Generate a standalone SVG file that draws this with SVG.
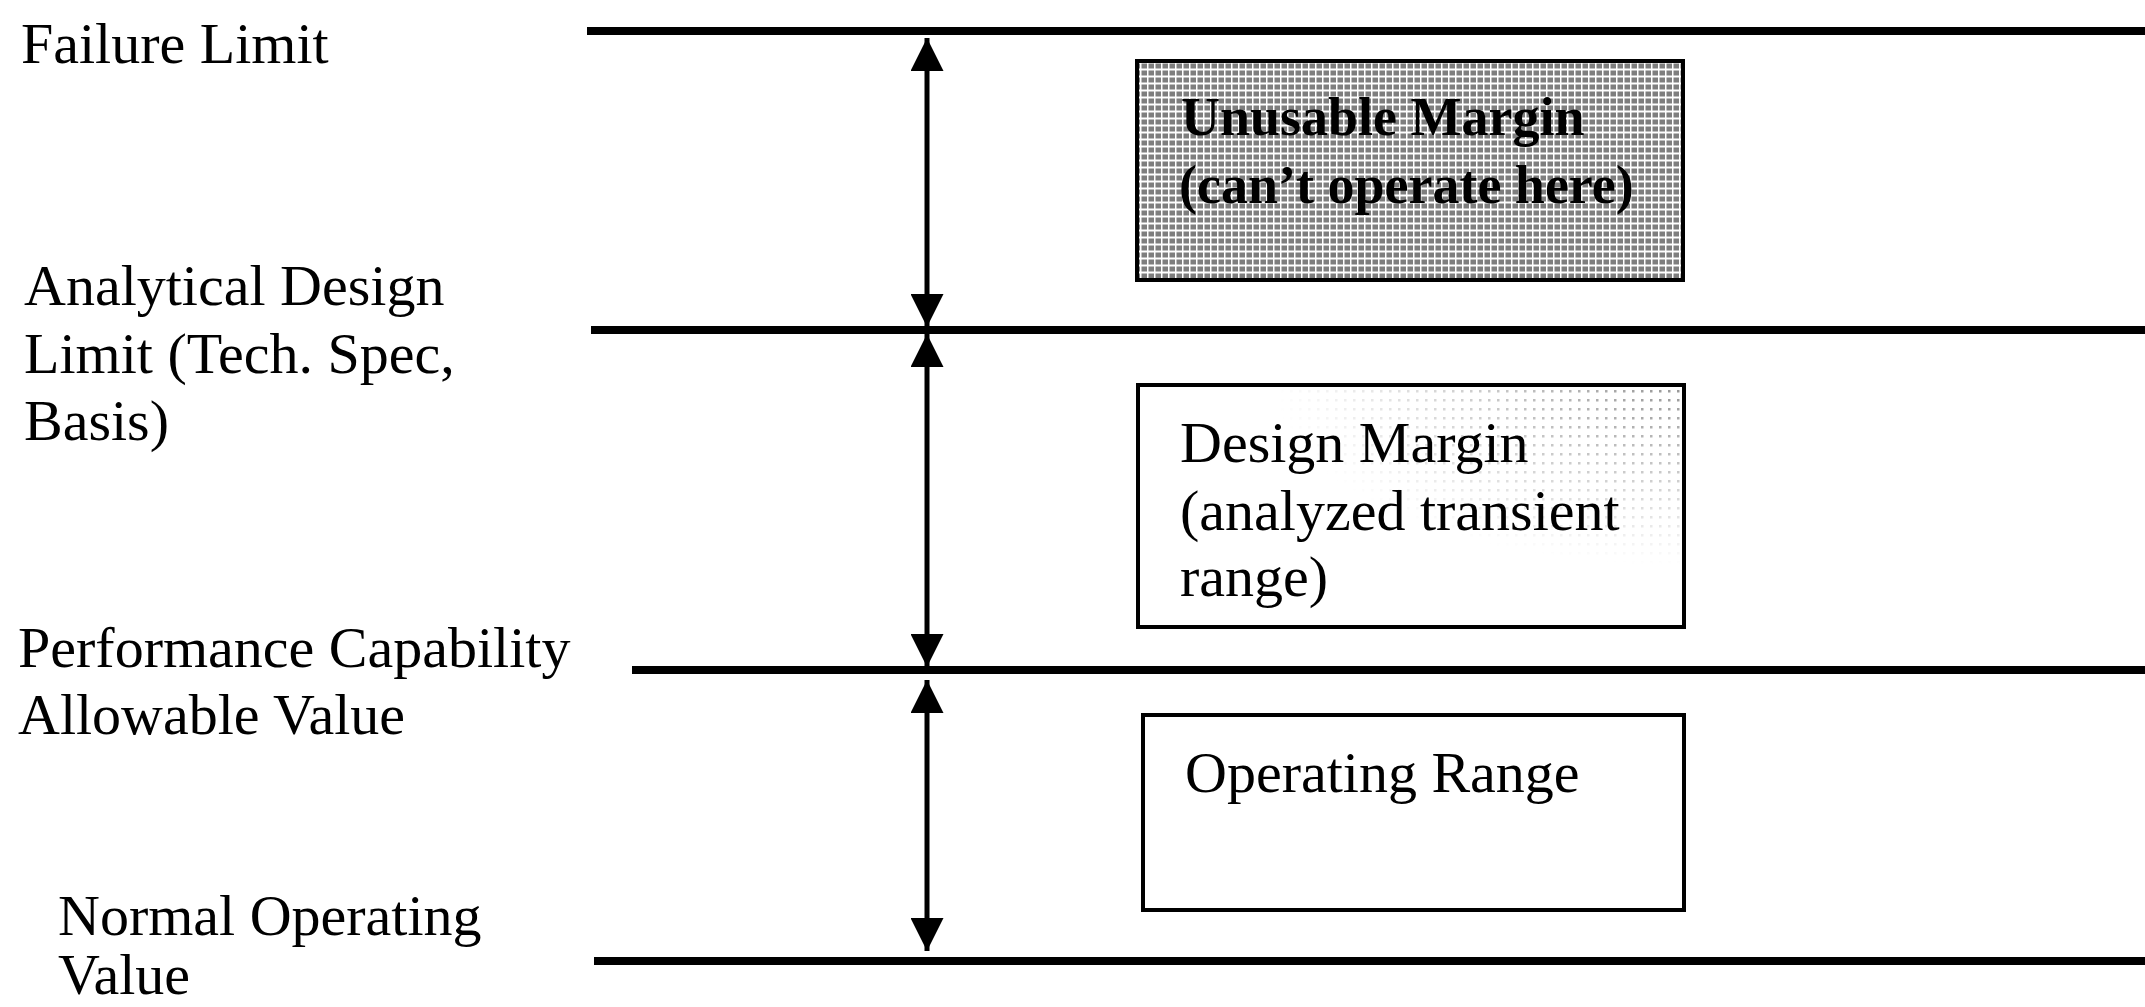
<svg xmlns="http://www.w3.org/2000/svg" width="2145" height="1007" viewBox="0 0 2145 1007">
<style>
  .lbl { font-family: "Liberation Serif", "Times New Roman", serif; font-size: 58px; fill: #000; }
  .bold { font-weight: bold; font-size: 54px; }
  .level { stroke: #000; stroke-width: 8; fill: none; }
  .box { stroke: #000; stroke-width: 4; }
  .arrow { stroke: #000; stroke-width: 5; fill: none; }
</style>
<defs>
  <marker id="head" markerUnits="userSpaceOnUse" markerWidth="33" markerHeight="33" refX="33" refY="16.5" orient="auto-start-reverse" viewBox="0 0 33 33">
    <path d="M0,0 L33,16.5 L0,33 Z" fill="#000"/>
  </marker>
  <pattern id="halftone" width="7" height="7" patternUnits="userSpaceOnUse">
    <rect width="7" height="7" fill="#ffffff"/>
    <rect x="0.5" y="0.5" width="5.5" height="5" fill="#7e7e7e"/>
  </pattern>
  <pattern id="sparse" width="9" height="9" patternUnits="userSpaceOnUse">
    <rect x="3" y="3" width="2.5" height="2.5" fill="#8a8a8a"/>
  </pattern>
  <radialGradient id="fade" cx="1" cy="0" r="0.75">
    <stop offset="0" stop-color="#fff" stop-opacity="0.9"/>
    <stop offset="0.6" stop-color="#fff" stop-opacity="0.35"/>
    <stop offset="1" stop-color="#fff" stop-opacity="0"/>
  </radialGradient>
  <mask id="fadeMask" maskContentUnits="objectBoundingBox">
    <rect width="1" height="1" fill="url(#fade)"/>
  </mask>
</defs>

<rect width="2145" height="1007" fill="#fff"/>

<g id="levels">
  <line class="level" x1="587" y1="31" x2="2145" y2="31"/>
  <line class="level" x1="591" y1="330" x2="2145" y2="330"/>
  <line class="level" x1="632" y1="670" x2="2145" y2="670"/>
  <line class="level" x1="594" y1="961" x2="2145" y2="961"/>
</g>

<g id="labels">
  <text class="lbl" x="21" y="63">Failure Limit</text>
  <text class="lbl" x="24" y="305">Analytical Design</text>
  <text class="lbl" x="24" y="373">Limit (Tech. Spec,</text>
  <text class="lbl" x="24" y="440">Basis)</text>
  <text class="lbl" x="18" y="667">Performance Capability</text>
  <text class="lbl" x="18" y="734">Allowable Value</text>
  <text class="lbl" x="58" y="935">Normal Operating</text>
  <text class="lbl" x="58" y="994">Value</text>
</g>

<g id="connectors">
  <line class="arrow" x1="927" y1="38" x2="927" y2="327" marker-start="url(#head)" marker-end="url(#head)"/>
  <line class="arrow" x1="927" y1="334" x2="927" y2="667" marker-start="url(#head)" marker-end="url(#head)"/>
  <line class="arrow" x1="927" y1="680" x2="927" y2="951" marker-start="url(#head)" marker-end="url(#head)"/>
</g>

<g id="unusable-margin">
  <rect class="box" x="1137" y="61" width="546" height="219" fill="url(#halftone)"/>
  <text class="lbl bold" x="1181" y="135">Unusable Margin</text>
  <text class="lbl bold" x="1179" y="203">(can’t operate here)</text>
</g>

<g id="design-margin">
  <rect class="box" x="1138" y="385" width="546" height="242" fill="#fff"/>
  <rect x="1140" y="387" width="542" height="238" fill="url(#sparse)" mask="url(#fadeMask)"/>
  <rect x="1138" y="385" width="546" height="242" fill="none" stroke="#000" stroke-width="4"/>
  <text class="lbl" x="1180" y="462">Design Margin</text>
  <text class="lbl" x="1180" y="530">(analyzed transient</text>
  <text class="lbl" x="1180" y="596">range)</text>
</g>

<g id="operating-range">
  <rect class="box" x="1143" y="715" width="541" height="195" fill="#fff"/>
  <text class="lbl" x="1185" y="792">Operating Range</text>
</g>
</svg>
